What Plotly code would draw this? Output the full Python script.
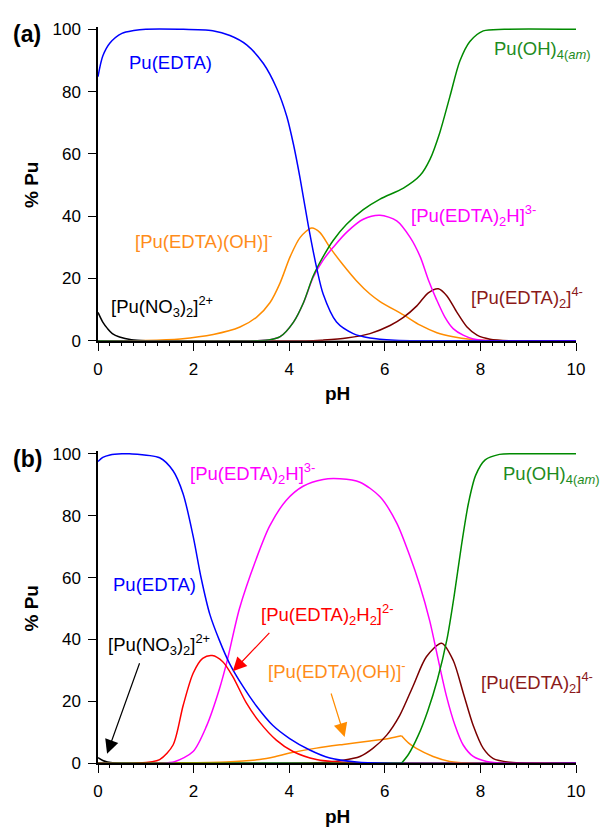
import plotly.graph_objects as go

W, H = 603, 835
FONT = "Liberation Sans, Arial, sans-serif"

# ---------------- Panel (a) data ----------------
a_no3_ph = [0, 0.1, 0.2, 0.3, 0.45, 0.7, 1.0, 10]
a_no3 = [9.1, 6.0, 3.9, 2.3, 1.2, 0.3, 0, 0]

a_edta_ph = [0, 0.1, 0.25, 0.5, 0.75, 1.0, 1.7, 2.4, 2.76, 3.11, 3.46, 3.74, 3.95, 4.09, 4.23, 4.40, 4.58, 4.71, 4.99, 5.34, 5.69, 6.2, 7.0, 10]
a_edta = [84.8, 91.4, 95.6, 98.7, 99.6, 100, 100, 99.5, 98, 95, 89, 81, 72, 63, 52, 37, 23, 15, 6, 2.3, 0.9, 0.2, 0, 0]

a_oh_ph = [0, 1.0, 1.72, 2.41, 2.97, 3.32, 3.60, 3.81, 4.02, 4.23, 4.47, 4.64, 4.85, 5.13, 5.41, 5.69, 5.90, 6.39, 6.74, 7.09, 7.43, 7.78, 8.5, 10]
a_oh = [0, 0.1, 0.6, 2.0, 4.4, 7.6, 12.3, 18.6, 27, 33.2, 36.2, 34.8, 30, 24.3, 19.2, 15.0, 12.6, 8.3, 5.0, 2.6, 1.3, 0.5, 0, 0]

a_pu_oh4_ph = [0, 3.3, 3.6, 3.81, 4.09, 4.30, 4.50, 4.71, 4.92, 5.20, 5.55, 5.90, 6.39, 6.74, 6.95, 7.15, 7.36, 7.57, 7.78, 8.06, 8.5, 10]
a_pu_oh4 = [0, 0, 0.3, 1.3, 6, 12.3, 20.7, 27, 32.2, 37.4, 42.1, 45.5, 49, 53.1, 58.4, 66.8, 78.3, 89.8, 96.1, 99.5, 100, 100]

a_edta2h_ph = [0, 3.3, 3.6, 3.81, 4.09, 4.30, 4.50, 4.71, 4.92, 5.20, 5.55, 5.90, 6.25, 6.53, 6.74, 6.91, 7.08, 7.26, 7.43, 7.64, 7.85, 8.2, 10]
a_edta2h = [0, 0, 0.3, 1.3, 6, 12.2, 20.3, 25.9, 30, 34.8, 39, 40.3, 38.5, 33.2, 27, 19.6, 13.3, 7.5, 3.9, 1.8, 0.6, 0, 0]

a_edta2_ph = [0, 4.5, 4.71, 5.2, 5.69, 6.11, 6.39, 6.67, 6.91, 7.12, 7.30, 7.51, 7.72, 7.93, 8.2, 8.6, 10]
a_edta2 = [0, 0, 0.2, 0.9, 2.3, 4.9, 7.5, 11.2, 15.4, 16.7, 14.4, 9.1, 4.4, 1.8, 0.5, 0, 0]

# ---------------- Panel (b) data ----------------
b_no3_ph = [0, 0.1, 0.2, 0.35, 0.6, 10]
b_no3 = [1.8, 0.9, 0.4, 0.1, 0, 0]

b_edta_ph = [0, 0.1, 0.25, 0.5, 0.66, 1.29, 1.57, 1.78, 1.99, 2.16, 2.34, 2.54, 2.75, 3.03, 3.31, 3.66, 4.01, 4.43, 4.85, 5.41, 6.0, 10]
b_edta = [97.5, 98.8, 99.6, 100, 100, 98.7, 94.5, 87.1, 73.4, 59.7, 48.1, 39.7, 32.3, 24.9, 18.6, 12.2, 8, 4.3, 1.7, 0.4, 0, 0]

b_edta2h2_ph = [0, 0.8, 1.29, 1.57, 1.78, 1.99, 2.19, 2.39, 2.61, 2.82, 3.1, 3.38, 3.73, 4.08, 4.57, 5.13, 5.6, 10]
b_edta2h2 = [0, 0, 1.2, 5.9, 18.6, 29.1, 33.9, 34.8, 32.8, 28, 19.6, 13.3, 7.5, 3.8, 1.2, 0.3, 0, 0]

b_edta2h_ph = [0, 1.29, 1.6, 1.99, 2.27, 2.54, 2.70, 2.96, 3.31, 3.59, 3.94, 4.29, 4.71, 5.06, 5.48, 5.9, 6.25, 6.52, 6.73, 6.94, 7.12, 7.29, 7.47, 7.64, 7.85, 8.13, 8.5, 10]
b_edta2h = [0, 0, 0.5, 3.8, 12, 24, 33, 50, 66, 76.6, 85, 89.5, 91.7, 91.9, 90.8, 86.1, 77.6, 67.1, 57.6, 46, 33.3, 21.7, 12.2, 5.9, 2.2, 0.6, 0, 0]

b_oh_ph = [0, 0.59, 1.5, 2.68, 3.38, 3.7, 4.01, 4.57, 5.13, 5.69, 6.11, 6.35, 6.5, 6.66, 7.01, 7.36, 7.8, 10]
b_oh = [0, 0, 0.1, 0.4, 1.2, 2.1, 3.3, 4.9, 6.1, 7.2, 8.1, 8.9, 6.5, 4.8, 2.2, 0.6, 0, 0]
b_oh_kink = 11  # index of the sharp maximum

b_pu_oh4_ph = [0, 6.35, 6.5, 6.7, 6.9, 7.1, 7.3, 7.45, 7.6, 7.75, 7.9, 8.1, 8.4, 8.7, 10]
b_pu_oh4 = [0, 0, 3, 9, 17, 27, 40, 54, 70, 84, 93, 98, 99.8, 100, 100]
b_pu_oh4_kink = 1

b_edta2_ph = [0, 4.5, 5.13, 5.48, 5.75, 6.04, 6.31, 6.59, 6.87, 7.19, 7.43, 7.64, 7.85, 8.06, 8.27, 8.62, 9.0, 10]
b_edta2 = [0, 0.1, 1.0, 2.2, 4.8, 9.1, 15.4, 24.9, 34.4, 38.8, 33.3, 22.8, 12.2, 4.8, 1.5, 0.3, 0, 0]

C_BLACK = "#000000"
C_BLUE = "#0000FF"
C_ORANGE = "#FF8C00"
C_GREEN = "#008A00"
C_MAGENTA = "#FF00FF"
C_MAROON = "#7A0000"
C_RED = "#FF0000"

fig = go.Figure()


def add_curve(xs, ys, color, xa, ya, kink=None):
    parts = [(xs, ys)] if kink is None else [(xs[:kink + 1], ys[:kink + 1]), (xs[kink:], ys[kink:])]
    for px_, py_ in parts:
        fig.add_trace(go.Scatter(x=px_, y=py_, mode="lines", xaxis=xa, yaxis=ya,
                                 line=dict(color=color, width=1.5, shape="spline", smoothing=0.8),
                                 showlegend=False, hoverinfo="skip"))


# panel a (x, y)
add_curve(a_no3_ph, a_no3, C_BLACK, "x", "y")
add_curve(a_oh_ph, a_oh, C_ORANGE, "x", "y")
add_curve(a_edta2_ph, a_edta2, C_MAROON, "x", "y")
add_curve(a_edta2h_ph, a_edta2h, C_MAGENTA, "x", "y")
add_curve(a_pu_oh4_ph, a_pu_oh4, C_GREEN, "x", "y")
add_curve(a_edta_ph, a_edta, C_BLUE, "x", "y")

# panel b (x2, y2)
add_curve(b_no3_ph, b_no3, C_BLACK, "x2", "y2")
add_curve(b_oh_ph, b_oh, C_ORANGE, "x2", "y2", kink=b_oh_kink)
add_curve(b_edta2_ph, b_edta2, C_MAROON, "x2", "y2")
add_curve(b_edta2h_ph, b_edta2h, C_MAGENTA, "x2", "y2")
add_curve(b_edta2h2_ph, b_edta2h2, C_RED, "x2", "y2")
add_curve(b_pu_oh4_ph, b_pu_oh4, C_GREEN, "x2", "y2", kink=b_pu_oh4_kink)
add_curve(b_edta_ph, b_edta, C_BLUE, "x2", "y2")

L, R = 98, 27
PW = W - L - R

def pxp(x):
    return (x - L) / PW

def pyp(y):
    return 1 - y / H

common_x = dict(range=[0, 10], tickvals=[0, 2, 4, 6, 8, 10], ticks="outside", ticklen=8, tickwidth=1.3,
                tickcolor="black", showline=True, linecolor="black", linewidth=1.5, showgrid=False,
                zeroline=False, ticklabelstandoff=4, tickfont=dict(family=FONT, size=17, color="black"),
                minor=dict(dtick=0.25, tick0=0, ticks="outside", ticklen=3, tickcolor="black", tickwidth=1, showgrid=False))
common_y = dict(range=[0, 100.8], tickvals=[0, 20, 40, 60, 80, 100], ticks="outside", ticklen=8, tickwidth=1.3,
                tickcolor="black", showline=True, linecolor="black", linewidth=1.5, showgrid=False,
                zeroline=False, ticklabelstandoff=4, tickfont=dict(family=FONT, size=17, color="black"))

fig.update_layout(
    width=W, height=H, margin=dict(l=L, r=R, t=0, b=0),
    plot_bgcolor="white", paper_bgcolor="white",
    xaxis=dict(domain=[0, 1], anchor="y", **common_x),
    yaxis=dict(domain=[pyp(340.7), pyp(20.2)], anchor="x", **common_y),
    xaxis2=dict(domain=[0, 1], anchor="y2", **common_x),
    yaxis2=dict(domain=[pyp(772), pyp(453.5)], anchor="x2", **common_y),
    showlegend=False,
)

ann = []

def label(text, x, y, color, size=18.5, bold=False, anchor="left", angle=0):
    ann.append(dict(text=("<b>%s</b>" % text) if bold else text, x=pxp(x), y=pyp(y), xref="paper", yref="paper",
                    xanchor=anchor, yanchor="middle", showarrow=False, textangle=angle,
                    font=dict(family=FONT, size=size, color=color)))

# panel a texts
label("(a)", 27, 28, "black", size=23, bold=True, anchor="center")
label("% Pu", 31, 181.7, "black", size=19, bold=True, anchor="center", angle=-90)
label("pH", 337, 395, "black", size=19, bold=True, anchor="center")
label("Pu(EDTA)", 127, 57, C_BLUE)
label("Pu(OH)<sub>4(<i>am</i>)</sub>", 492, 44, "#1E8C1E")
label("[Pu(EDTA)(OH)]<sup>-</sup>", 133, 238, "#FF8C1A")
label("[Pu(EDTA)<sub>2</sub>H]<sup>3-</sup>", 409, 213, C_MAGENTA)
label("[Pu(EDTA)<sub>2</sub>]<sup>4-</sup>", 469, 297, "#8B1A1A")
label("[Pu(NO<sub>3</sub>)<sub>2</sub>]<sup>2+</sup>", 109, 306, "black")

# panel b texts
label("(b)", 27, 461, "black", size=23, bold=True, anchor="center")
label("% Pu", 31, 614, "black", size=19, bold=True, anchor="center", angle=-90)
label("pH", 337, 826, "black", size=19, bold=True, anchor="center")
label("[Pu(EDTA)<sub>2</sub>H]<sup>3-</sup>", 188, 476, C_MAGENTA)
label("Pu(EDTA)", 111, 590, C_BLUE)
label("[Pu(NO<sub>3</sub>)<sub>2</sub>]<sup>2+</sup>", 106, 651, "black")
label("[Pu(EDTA)<sub>2</sub>H<sub>2</sub>]<sup>2-</sup>", 259, 620, C_RED)
label("[Pu(EDTA)(OH)]<sup>-</sup>", 266, 677, "#FF8C1A")
label("[Pu(EDTA)<sub>2</sub>]<sup>4-</sup>", 479, 690, "#8B1A1A")
label("Pu(OH)<sub>4(<i>am</i>)</sub>", 501, 478, "#1E8C1E")

# arrows in panel b
def arrow(x, y, ax, ay, color):
    ann.append(dict(text="", x=x, y=y, xref="x2", yref="y2", ax=ax, ay=ay, axref="pixel", ayref="pixel",
                    showarrow=True, arrowhead=2, arrowsize=2.3, arrowwidth=1.2, arrowcolor=color))

arrow(0.19, 3.1, 33, -92, "black")
arrow(2.82, 29.7, 38, -40, C_RED)
arrow(5.16, 8.5, -14, -45, C_ORANGE)

fig.update_layout(annotations=ann)
fig.write_html("out.html")
